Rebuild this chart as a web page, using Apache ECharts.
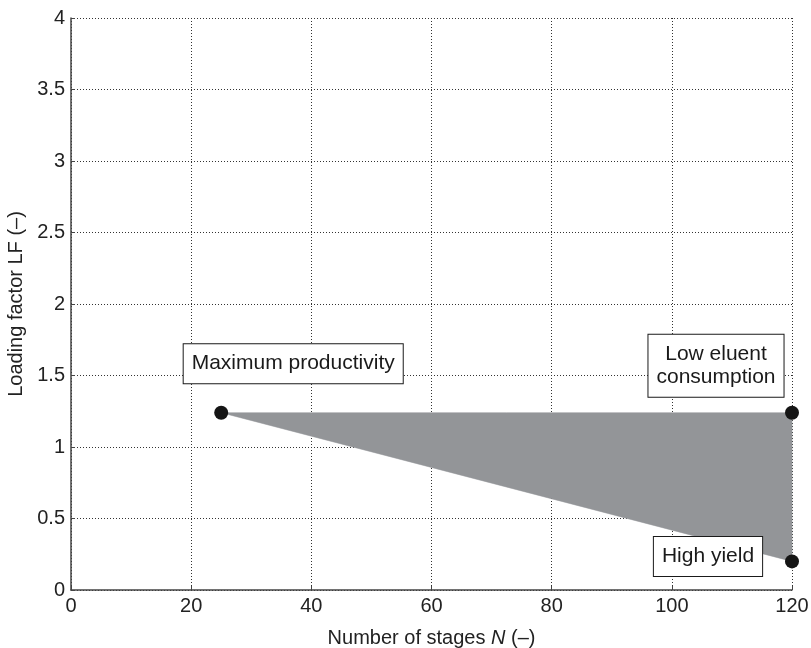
<!DOCTYPE html>
<html>
<head>
<meta charset="utf-8">
<script src="https://cdn.jsdelivr.net/npm/echarts@6/dist/echarts.min.js"></script>
<style>
  html, body { margin: 0; padding: 0; background: #fff; }
  #chart { width: 811px; height: 648px; }
</style>
</head>
<body>
<div id="chart"></div>
<script>
// Operating region vertices: number of stages N and loading factor LF
const regionN = [25, 120, 120];
const regionLF = [1.24, 1.24, 0.2];

// Labelled operating points
const pointNames = ['Maximum productivity', 'Low eluent\nconsumption', 'High yield'];
const pointN = [25, 120, 120];
const pointLF = [1.24, 1.24, 0.2];

const xTicks = [0, 20, 40, 60, 80, 100, 120];
const yTicks = [0, 0.5, 1, 1.5, 2, 2.5, 3, 3.5, 4];

const FONT = '"Liberation Sans", Arial, Helvetica, sans-serif';
const labelOffsets = [[72, -49], [-76, -47], [-84, -5]];

const chart = echarts.init(document.getElementById('chart'), null, { renderer: 'canvas' });

const regionData = regionN.map((n, i) => [n, regionLF[i]]);
const pointData = pointN.map((n, i) => ({
  value: [n, pointLF[i]],
  name: pointNames[i],
  label: { offset: labelOffsets[i] }
}));

chart.setOption({
  animation: false,
  backgroundColor: '#fff',
  grid: {
    left: 71, right: 19, top: 18, bottom: 58,
    containLabel: false,
    outerBoundsMode: 'none'
  },
  xAxis: {
    type: 'value',
    min: xTicks[0],
    max: xTicks[xTicks.length - 1],
    interval: xTicks[1] - xTicks[0],
    name: '{n|Number of stages }{i|N}{n| (\u2013)}',
    nameLocation: 'middle',
    nameGap: 38,
    nameTextStyle: {
      rich: {
        n: { fontFamily: FONT, fontSize: 20, color: '#222' },
        i: { fontFamily: FONT, fontSize: 20, color: '#222', fontStyle: 'italic' }
      }
    },
    axisLine: { lineStyle: { color: '#444', width: 1.5 } },
    axisTick: { inside: true, length: 4, lineStyle: { color: '#444' } },
    axisLabel: { fontFamily: FONT, fontSize: 20, color: '#222', margin: 6 },
    splitLine: { show: true, lineStyle: { type: [1, 2], color: '#333', width: 1 } }
  },
  yAxis: {
    type: 'value',
    min: yTicks[0],
    max: yTicks[yTicks.length - 1],
    interval: yTicks[1] - yTicks[0],
    name: 'Loading factor LF (\u2013)',
    nameLocation: 'middle',
    nameGap: 44,
    nameTextStyle: { fontFamily: FONT, fontSize: 20, color: '#222' },
    axisLine: { show: true, lineStyle: { color: '#444', width: 1.5 } },
    axisTick: { show: true, inside: true, length: 4, lineStyle: { color: '#444' } },
    axisLabel: {
      fontFamily: FONT, fontSize: 20, color: '#222', margin: 6,
      verticalAlign: 'middle'
    },
    splitLine: { show: true, lineStyle: { type: [1, 2], color: '#333', width: 1 } }
  },
  series: [
    {
      type: 'custom',
      z: 2,
      data: regionData,
      renderItem: function (params, api) {
        if (params.dataIndex !== 0) return null;
        const pts = regionData.map(d => api.coord(d));
        return {
          type: 'polygon',
          shape: { points: pts },
          style: { fill: '#939598', stroke: '#939598', lineWidth: 0.5 }
        };
      },
      encode: { x: 0, y: 1 },
      silent: true
    },
    {
      type: 'scatter',
      z: 3,
      symbol: 'circle',
      symbolSize: 14,
      itemStyle: { color: '#151515', opacity: 1 },
      data: pointData,
      label: {
        show: true,
        position: 'inside',
        formatter: '{b}',
        fontFamily: FONT,
        fontSize: 21,
        lineHeight: 23,
        color: '#1a1a1a',
        align: 'center',
        backgroundColor: '#fff',
        borderColor: '#1a1a1a',
        borderWidth: 1,
        padding: [8, 8, 8, 8]
      },
      clip: false
    }
  ]
});
</script>
</body>
</html>
